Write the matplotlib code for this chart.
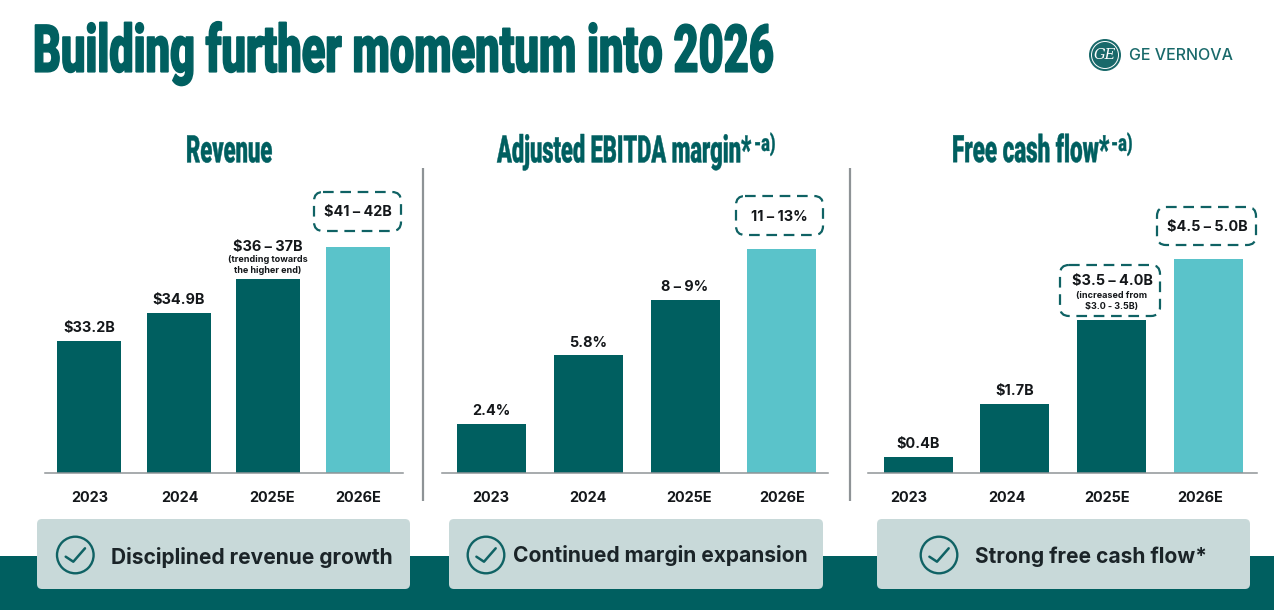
import matplotlib
matplotlib.use("Agg")
import matplotlib.pyplot as plt
from matplotlib.patches import FancyBboxPatch, Rectangle, Circle
from matplotlib.patheffects import AbstractPathEffect
from matplotlib.text import Text
from matplotlib.transforms import Affine2D, Bbox

W, H = 1274, 610
TEAL = "#005F60"
LIGHT = "#5AC3CA"
CARD = "#C8D9D9"
GREY = "#8F9497"
INK = "#14171A"

categories = ["2023", "2024", "2025E", "2026E"]
main_title = "Building further momentum into 2026"
panel_titles = ["Revenue", "Adjusted EBITDA margin*", "Free cash flow*"]
card_texts = ["Disciplined revenue growth", "Continued margin expansion", "Strong free cash flow*"]

# revenue bars are schematic in the source: relative height index
revenue_heights = [132, 160, 194, 226]
revenue_labels = ["$33.2B", "$34.9B", "$36 – 37B", "$41 – 42B"]
margin_values = [2.4, 5.8, 8.5, 11.0]
margin_labels = ["2.4%", "5.8%", "8 – 9%", "11 – 13%"]
fcf_values = [0.4, 1.7, 3.77, 5.27]
fcf_labels = ["$0.4B", "$1.7B", "$3.5 – 4.0B", "$4.5 – 5.0B"]

plt.rcParams["font.family"] = ["Inter", "DejaVu Sans"]

fig = plt.figure(figsize=(W / 100, H / 100), dpi=100, facecolor="white")
ov = fig.add_axes([0, 0, 1, 1], zorder=0)
ov.set_xlim(0, W)
ov.set_ylim(H, 0)
ov.axis("off")
top = fig.add_axes([0, 0, 1, 1], zorder=5)
top.set_xlim(0, W)
top.set_ylim(H, 0)
top.axis("off")
top.patch.set_alpha(0)


class StretchY(AbstractPathEffect):
    """Draws text glyphs stretched vertically about the text's centre line."""

    def __init__(self, y0, sy, stroke):
        super().__init__()
        self.y0, self.sy, self.stroke = y0, sy, stroke

    def draw_path(self, renderer, gc, tpath, affine, rgbFace=None):
        tr = affine + Affine2D().translate(0, -self.y0).scale(1, self.sy).translate(0, self.y0)
        gc0 = renderer.new_gc()
        gc0.copy_properties(gc)
        gc0.set_linewidth(self.stroke)
        gc0.set_foreground(rgbFace)
        gc0.set_joinstyle("miter")
        renderer.draw_path(gc0, tpath, tr, rgbFace)
        gc0.restore()


def condensed(x, y, s, size, sy, stroke=0.5):
    """Tall narrow display text: real text at its true width, stretched in height."""
    t = top.text(x, y, s, ha="left", va="center", family="Roboto", fontweight=900,
                 fontsize=size, color=TEAL)
    t.set_path_effects([StretchY(H - y, sy, stroke)])
    return t


def bar_panel(x0, x1, y_top, unit, values, centre0, spacing, width, tick_px):
    """Axes spanning pixels x0..x1, baseline y=473; unit = pixels per value."""
    ax = fig.add_axes([x0 / W, (H - 473) / H, (x1 - x0) / W, (473 - y_top) / H], zorder=2)
    ax.patch.set_alpha(0)
    ax.set_xlim(-(centre0 - x0) / spacing, (x1 - centre0) / spacing)
    ax.set_ylim(0, (473 - y_top) / unit)
    colors = [TEAL, TEAL, TEAL, LIGHT]
    ax.bar(range(4), values, width=width / spacing, color=colors)
    for s in ("top", "left", "right"):
        ax.spines[s].set_visible(False)
    ax.spines["bottom"].set_color(GREY)
    ax.spines["bottom"].set_linewidth(1.1)
    ax.set_yticks([])
    ax.set_xticks([(p - centre0) / spacing for p in tick_px], categories)
    ax.tick_params(axis="x", length=0, pad=13, labelsize=10.4, labelcolor=INK)
    for t in ax.get_xticklabels():
        t.set_fontweight("bold")
    return ax


bar_panel(45, 403, 170, 1.0, revenue_heights, 89, 89.7, 64, (90, 180, 272, 358))
bar_panel(442, 828, 170, 20.4, margin_values, 491.5, 96.8, 69, (491, 588, 689, 782))
bar_panel(868, 1257, 170, 40.6, fcf_values, 918, 96.8, 69, (909, 1007, 1107, 1200))

# background band, dividers
ov.add_patch(Rectangle((0, 556), W, 54, color=TEAL, lw=0))
for x in (423, 850):
    ov.plot([x, x], [168, 501], color="#8E9396", lw=1.6, solid_capstyle="butt")

# title and panel headings
condensed(33, 54, main_title, 31.2, 1.527, 1.0)
condensed(186, 152, panel_titles[0], 15.8, 1.73, 0.3)
condensed(497, 152, panel_titles[1], 15.7, 1.74, 0.3)
condensed(952, 152, panel_titles[2], 16.1, 1.695, 0.3)
condensed(754, 144, "-a)", 11.6, 1.47, 0.2)
condensed(1111, 144, "-a)", 11.6, 1.47, 0.2)


def lab(x, y, s, size=10.4):
    top.text(x, y, s, ha="center", va="center", fontsize=size, fontweight="bold", color=INK)


# value labels
for x, y, s in zip((89, 179, 268, 358), (328, 300, 247, 212), revenue_labels):
    lab(x, y, s)
top.text(268, 265, "(trending towards\nthe higher end)", ha="center", va="center", fontsize=6.5,
         fontweight="bold", color=INK, linespacing=1.25)
for x, y, s in zip((491.5, 588, 685, 779), (411, 343, 287, 217), margin_labels):
    lab(x, y, s)
for x, y, s in zip((918, 1015, 1112, 1207), (444, 391, 281, 227), fcf_labels):
    lab(x, y, s)
top.text(1112, 301, "(increased from\n$3.0 - 3.5B)", ha="center", va="center", fontsize=6.5,
         fontweight="bold", color=INK, linespacing=1.25)


def dashed(x0, y0, x1, y1):
    top.add_patch(FancyBboxPatch((x0, y0), x1 - x0, y1 - y0,
                                 boxstyle="round,pad=0,rounding_size=9", fc="none", ec="#0F6264",
                                 lw=1.6, ls=(0, (4.8, 3.0))))


dashed(314, 192, 401, 231)
dashed(736, 196, 823, 235)
dashed(1157, 207, 1256, 245)
dashed(1060, 265, 1160, 316)


def card(x0, x1, y0, y1, text, tx, ty, cx):
    top.add_patch(FancyBboxPatch((x0, y0), x1 - x0, y1 - y0,
                                 boxstyle="round,pad=0,rounding_size=5", fc=CARD, ec="none"))
    top.add_patch(Circle((cx, 555), 18.3, fc="none", ec="#0F6264", lw=1.7))
    top.plot([cx - 9.6, cx - 2, cx + 9.7], [556.7, 561.7, 548.3], color="#0F6264", lw=1.8,
             solid_capstyle="round", solid_joinstyle="round")
    top.text(tx, ty, text, ha="left", va="center", fontsize=15.1, fontweight="bold", color="#1B2428")


card(37, 410, 519, 589, card_texts[0], 111, 557, 75.3)
card(449, 823, 519, 589, card_texts[1], 513, 555, 486)
card(877, 1250, 519, 589, card_texts[2], 975, 557, 939)

# logo
top.add_patch(Circle((1105, 55), 16, fc="#19696A", ec="none"))
top.add_patch(Circle((1105, 55), 13.5, fc="none", ec="white", lw=0.7))
top.text(1105, 55, "GE", ha="center", va="center", color="white", fontsize=10.5, style="italic",
         family="DejaVu Serif")
top.text(1129, 55, "GE VERNOVA", ha="left", va="center", color="#19696A", fontsize=11.5, fontweight="medium")

fig.savefig("out.png", dpi=100, facecolor="white")
